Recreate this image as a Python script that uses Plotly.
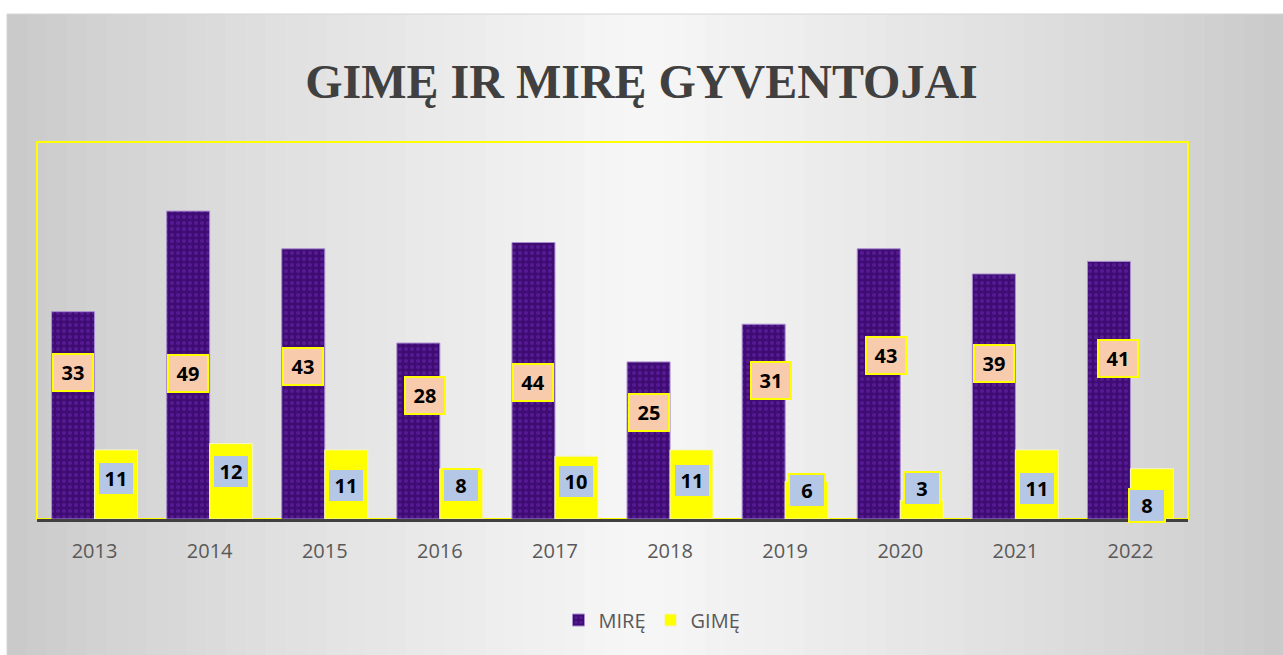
import plotly.graph_objects as go

# ---- data ----
years = ["2013", "2014", "2015", "2016", "2017", "2018", "2019", "2020", "2021", "2022"]
mire = [33, 49, 43, 28, 44, 25, 31, 43, 39, 41]
gime = [11, 12, 11, 8, 10, 11, 6, 3, 11, 8]

# data-label placement (value-axis units / pixel nudges)
mire_label_y = [23.3, 23.2, 24.2, 19.7, 21.8, 17.0, 22.1, 26.1, 24.7, 25.5]
mire_label_dx = [0, 0, 0, 7, 0, 0, 7, 7, 0, 9]
gime_label_y = [6.4, 7.6, 5.3, 5.3, 5.9, 6.2, 4.6, 4.9, 4.8, 2.1]
gime_label_dx = [0, 0, 0, 0, 0, 0, 0, 0, 0, -5]

# ---- layout geometry ----
W, H = 1283, 655
L, R, T, B = 37, 1188, 142, 519
PW, PH = R - L, B - T


def px_x(px):
    return (px - L) / PW


def px_y(py):
    return (B - py) / PH


BAR_W = 43  # px

fig = go.Figure()
fig.add_trace(go.Bar(
    name="MIRĘ", x=years, y=mire,
    marker=dict(
        color="#42107a",
        line=dict(color="#a98bd0", width=1),
        pattern=dict(shape=".", fgcolor="#561b94", bgcolor="#3e0c72",
                     size=6, solidity=0.35, fillmode="replace"),
    ),
))
fig.add_trace(go.Bar(
    name="GIMĘ", x=years, y=gime,
    marker=dict(color="#ffff00", line=dict(color="#f4f4c8", width=1)),
))

# background gradient (styling)
shapes = []
N = 64
x0p, x1p = 7, W
for i in range(N):
    a = x0p + (x1p - x0p) * i / N
    b = x0p + (x1p - x0p) * (i + 1) / N
    t = ((a + b) / 2 - x0p) / (x1p - x0p)
    f = 1 - abs(2 * t - 1)
    g = int(201 + 46 * f ** 0.8)
    col = f"rgb({g},{g},{g})"
    shapes.append(dict(type="rect", xref="paper", yref="paper",
                       x0=px_x(a), x1=px_x(b + 0.5), y0=px_y(H), y1=px_y(14),
                       fillcolor=col, line=dict(width=0), layer="below"))
shapes.append(dict(type="rect", xref="paper", yref="paper",
                   x0=px_x(7), x1=px_x(W + 2), y0=px_y(H + 2), y1=px_y(14),
                   line=dict(color="#d4d4d4", width=1), fillcolor="rgba(0,0,0,0)",
                   layer="below"))
# plot area yellow border
shapes.append(dict(type="rect", xref="paper", yref="paper", x0=0, x1=1, y0=0, y1=1,
                   line=dict(color="#ffff00", width=2), fillcolor="rgba(0,0,0,0)",
                   layer="below"))

annotations = []
for i in range(len(years)):
    annotations.append(dict(
        x=i, y=mire_label_y[i], xref="x", yref="y", text=f"<b>{mire[i]}</b>",
        showarrow=False, xshift=-BAR_W / 2 + mire_label_dx[i], yanchor="middle",
        font=dict(family="Open Sans", size=20, color="#000000"),
        bgcolor="#f8cbad", bordercolor="#ffff00", borderwidth=2, borderpad=0,
        width=38, height=35,
    ))
    annotations.append(dict(
        x=i, y=gime_label_y[i], xref="x", yref="y", text=f"<b>{gime[i]}</b>",
        showarrow=False, xshift=BAR_W / 2 + gime_label_dx[i], yanchor="middle",
        font=dict(family="Open Sans", size=20, color="#000000"),
        bgcolor="#b4c7e7", bordercolor="#ffff00", borderwidth=2, borderpad=0,
        width=34, height=31,
    ))

fig.update_layout(
    width=W, height=H,
    margin=dict(l=L, r=W - R, t=T, b=H - B),
    paper_bgcolor="#ffffff",
    plot_bgcolor="rgba(0,0,0,0)",
    barmode="group", bargap=0.253, bargroupgap=0,
    title=dict(text="<b>GIMĘ IR MIRĘ GYVENTOJAI</b>", x=px_x(641.5) * 0 + 641.5 / W,
               xref="container",
               y=1 - 81 / H, yref="container", xanchor="center", yanchor="middle",
               font=dict(family="Liberation Serif", size=48, color="#404040")),
    xaxis=dict(type="category", range=[-0.5, len(years) - 0.5], showline=True,
               linecolor="#404040", linewidth=3,
               ticks="", showgrid=False, ticklabelstandoff=12,
               tickfont=dict(family="Open Sans", size=20, color="#595959")),
    yaxis=dict(range=[0, 60], visible=False, showgrid=False, zeroline=False),
    legend=dict(orientation="h", x=px_x(652), xanchor="center", y=px_y(620),
                yanchor="middle", bgcolor="rgba(0,0,0,0)",
                font=dict(family="Open Sans", size=20, color="#595959"),
                itemwidth=30, traceorder="normal"),
    shapes=shapes,
    annotations=annotations,
)

fig.write_html("out.html", config={"displayModeBar": False},
               post_script="document.body.style.margin='0px';")
